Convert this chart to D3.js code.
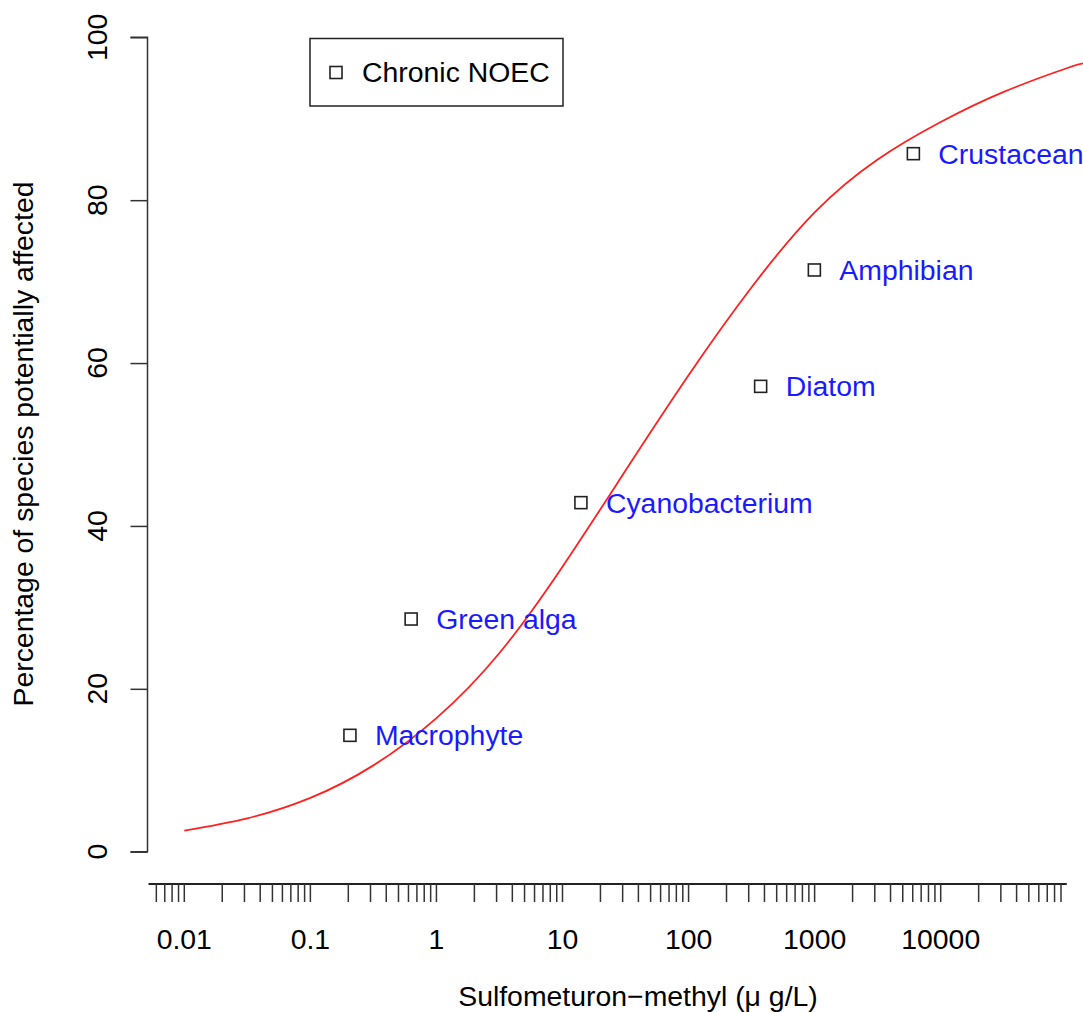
<!DOCTYPE html>
<html>
<head>
<meta charset="utf-8">
<script src="https://cdnjs.cloudflare.com/ajax/libs/d3/7.8.5/d3.min.js"></script>
<style>
  body { margin: 0; background: #fff; }
  svg text { font-family: "Liberation Sans", Arial, Helvetica, sans-serif; }
</style>
</head>
<body>
<div id="chart"></div>
<script>
// species NOEC values (ug/L) and cumulative fraction affected
const species = ["Macrophyte", "Green alga", "Cyanobacterium", "Diatom", "Amphibian", "Crustacean"]
const noec = [0.206, 0.63, 14, 373, 995, 6070]
const pctAffected = [14.29, 28.57, 42.86, 57.14, 71.43, 85.71]

// fitted SSD curve (log10 concentration, percent)
const curveLog = [-2, -1.5, -1, -0.5, 0, 0.5, 1, 1.5, 2, 2.5, 3, 3.5, 4, 4.5, 5, 5.13]
const curvePct = [2.6, 4.1, 6.6, 10.6, 16.4, 24.4, 35.0, 46.8, 58.5, 69.3, 78.5, 85.0, 89.6, 93.3, 96.2, 96.8]

const xTickLabels = [0.01, 0.1, 1, 10, 100, 1000, 10000]
const yTicks = [0, 20, 40, 60, 80, 100]

const width = 1083, height = 1012
const fontSize = 28.4

let svg = d3.select("#chart")
    .append("svg")
    .attr("width", width)
    .attr("height", height)

let x = d3.scaleLog()
    .domain([0.01, 10000])
    .range([184.3, 940.7])

let y = d3.scaleLinear()
    .domain([0, 100])
    .range([851.7, 37.3])

// y axis
let yAxis = svg.append("g")
    .attr("transform", "translate(147.5,0)")
    .call(d3.axisLeft(y).tickValues(yTicks).tickSize(17).tickPadding(0).tickFormat(""))
yAxis.selectAll("path, line").attr("stroke", "#333").attr("stroke-width", 1.5)
yAxis.select(".domain").attr("d", `M-17,${y(0)}H0V${y(100)}H-17`)

svg.append("g").selectAll("text")
    .data(yTicks)
    .enter()
    .append("text")
    .attr("transform", d => `translate(107, ${y(d)}) rotate(-90)`)
    .attr("text-anchor", "middle")
    .style("font-size", fontSize + "px")
    .text(d => d)

// x axis, decades with minor ticks
let minorTicks = []
for (let e = -3; e <= 4; e++) {
    for (let m = 1; m <= 9; m++) {
        let v = m * Math.pow(10, e)
        if (v >= 0.006 && v <= 90000) minorTicks.push(v)
    }
}

let xAxisG = svg.append("g").attr("transform", "translate(0,884)")
xAxisG.append("line")
    .attr("x1", x(0.0052)).attr("x2", x(100000))
    .attr("stroke", "#222").attr("stroke-width", 2)
xAxisG.selectAll(".tick")
    .data(minorTicks)
    .enter()
    .append("line")
    .attr("x1", d => x(d)).attr("x2", d => x(d))
    .attr("y1", 0).attr("y2", 18)
    .attr("stroke", "#333").attr("stroke-width", 1.5)
xAxisG.selectAll(".lab")
    .data(xTickLabels)
    .enter()
    .append("text")
    .attr("x", d => x(d))
    .attr("y", 65)
    .attr("text-anchor", "middle")
    .style("font-size", fontSize + "px")
    .text(d => d3.format("~f")(d))

// axis titles
svg.append("text")
    .attr("x", 638)
    .attr("y", 1006)
    .attr("text-anchor", "middle")
    .style("font-size", fontSize + "px")
    .text("Sulfometuron\u2212methyl (\u03bc g/L)")

svg.append("text")
    .attr("transform", "translate(33, 444) rotate(-90)")
    .attr("text-anchor", "middle")
    .style("font-size", fontSize + "px")
    .text("Percentage of species potentially affected")

// fitted curve
let line = d3.line()
    .x(d => x(Math.pow(10, d[0])))
    .y(d => y(d[1]))
    .curve(d3.curveNatural)

svg.append("path")
    .datum(curveLog.map((l, i) => [l, curvePct[i]]))
    .attr("d", line)
    .attr("fill", "none")
    .attr("stroke", "#ff2020")
    .attr("stroke-width", 1.8)

// points and labels
let pts = svg.append("g").selectAll("g")
    .data(species)
    .enter()
    .append("g")
    .attr("transform", (d, i) => `translate(${x(noec[i])}, ${y(pctAffected[i])})`)

pts.append("rect")
    .attr("x", -6).attr("y", -6)
    .attr("width", 12).attr("height", 12)
    .attr("fill", "none")
    .attr("stroke", "#222")
    .attr("stroke-width", 1.6)

pts.append("text")
    .attr("x", 25)
    .attr("y", 10)
    .attr("fill", "#1a1aff")
    .style("font-size", fontSize + "px")
    .text(d => d)

// legend
let legend = svg.append("g")
legend.append("rect")
    .attr("x", 310).attr("y", 38.5)
    .attr("width", 253).attr("height", 67.5)
    .attr("fill", "none")
    .attr("stroke", "#222")
    .attr("stroke-width", 1.5)
legend.append("rect")
    .attr("x", 330).attr("y", 66.5)
    .attr("width", 12).attr("height", 12)
    .attr("fill", "none")
    .attr("stroke", "#222")
    .attr("stroke-width", 1.6)
legend.append("text")
    .attr("x", 362)
    .attr("y", 82)
    .style("font-size", fontSize + "px")
    .text("Chronic NOEC")
</script>
</body>
</html>
